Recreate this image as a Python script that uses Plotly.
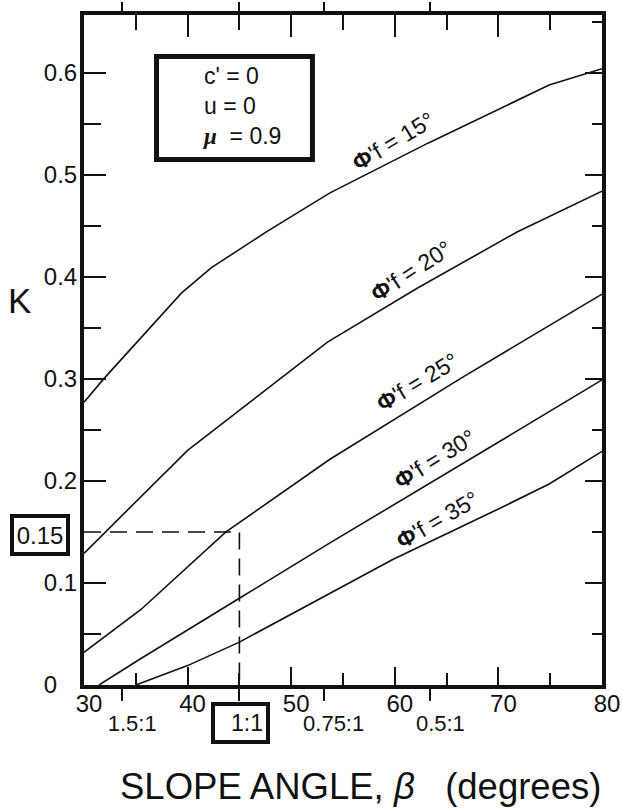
import math
import plotly.graph_objects as go

FONT = "Liberation Sans, Arial, Helvetica, sans-serif"
SERIF = "Liberation Serif, Times New Roman, serif"
INK = "#111111"

# Stability coefficient K against slope angle beta (degrees), c' = 0, u = 0, mu = 0.9
phi_labels = ["15°", "20°", "25°", "30°", "35°"]

beta_15 = [30, 31.9, 39.4, 42.3, 47.6, 53.7, 63.2, 74.9, 80]
k_15 = [0.277, 0.300, 0.384, 0.409, 0.444, 0.482, 0.531, 0.588, 0.604]

beta_20 = [30, 31.9, 40, 53.5, 62.2, 71.8, 80]
k_20 = [0.129, 0.148, 0.230, 0.336, 0.389, 0.444, 0.484]

beta_25 = [30, 35.5, 43.7, 53.7, 66.6, 80]
k_25 = [0.032, 0.074, 0.150, 0.221, 0.302, 0.383]

beta_30 = [31.45, 35.5, 45, 53.7, 68.7, 80]
k_30 = [0.0, 0.026, 0.085, 0.139, 0.230, 0.299]

beta_35 = [35, 40, 45, 53.7, 59.8, 70.1, 74.9, 80]
k_35 = [0.0, 0.019, 0.042, 0.090, 0.123, 0.173, 0.197, 0.229]

# worked example: 1:1 slope
readout_beta = 45
readout_k = 0.15

# axis ticks
beta_ticks = [30, 40, 50, 60, 70, 80]
beta_minor = [35, 45, 55, 65, 75]
k_ticks = [0, 0.1, 0.2, 0.3, 0.4, 0.5, 0.6]
k_ticktext = ["0&nbsp;&nbsp;&nbsp;", "0.1", "0.2", "0.3", "0.4", "0.5", "0.6"]
k_minor = [0.05, 0.25, 0.35, 0.45, 0.55]
k_minor_right = [0.05, 0.15, 0.25, 0.35, 0.45, 0.55, 0.65]
slope_ratios = [1.5, 1.0, 0.75, 0.5]
ratio_text = ["1.5:1", "1:1", "0.75:1", "0.5:1"]
ratio_deg = [math.degrees(math.atan(1.0 / r)) for r in slope_ratios]

X_RANGE = [30, 80]
Y_RANGE = [0, 0.6566]

fig = go.Figure()

curves = [(beta_15, k_15), (beta_20, k_20), (beta_25, k_25), (beta_30, k_30), (beta_35, k_35)]
for b, k in curves:
    fig.add_trace(go.Scatter(x=b, y=k, mode="lines", line=dict(color=INK, width=1.6),
                             hoverinfo="skip"))

# dashed read-off path
fig.add_trace(go.Scatter(x=[X_RANGE[0], readout_beta, readout_beta],
                         y=[readout_k, readout_k, 0], mode="lines",
                         line=dict(color=INK, width=1.6, dash="17px,9px"),
                         hoverinfo="skip"))

# empty traces so the extra tick axes are created
for xa, ya in [("x2", "y"), ("x3", "y"), ("x4", "y"), ("x", "y2")]:
    fig.add_trace(go.Scatter(x=[], y=[], xaxis=xa, yaxis=ya, hoverinfo="skip"))

tick_font = dict(family=FONT, size=24, color=INK)
plain = dict(showgrid=False, zeroline=False, automargin=False)

ratio_ticktext = [t if t != "1:1" else "" for t in ratio_text]

fig.update_layout(
    width=622, height=811,
    margin=dict(l=84, r=20, t=15, b=126),
    paper_bgcolor="white", plot_bgcolor="white",
    showlegend=False,
    font=dict(family=FONT, color=INK),
    xaxis=dict(range=X_RANGE, tickmode="array", tickvals=beta_ticks,
               ticks="inside", ticklen=18, tickwidth=1.5, tickcolor=INK,
               minor=dict(tickmode="array", tickvals=beta_minor, ticks="inside",
                          ticklen=12, tickwidth=1.5, tickcolor=INK),
               showline=True, linewidth=4, linecolor=INK, mirror=True,
               tickfont=tick_font, ticklabelshift=5, ticklabelstandoff=-6, **plain),
    xaxis2=dict(range=X_RANGE, overlaying="x", anchor="y", side="bottom",
                tickmode="array", tickvals=ratio_deg, ticktext=ratio_ticktext,
                ticks="outside", ticklen=15, tickwidth=1.5, tickcolor=INK,
                showline=False, tickfont=dict(family=FONT, size=22, color=INK),
                ticklabelshift=10, ticklabelstandoff=4, **plain),
    xaxis3=dict(range=X_RANGE, overlaying="x", anchor="y", side="top",
                tickmode="array", tickvals=beta_ticks[1:-1],
                ticks="inside", ticklen=22, tickwidth=1.5, tickcolor=INK,
                minor=dict(tickmode="array", tickvals=beta_minor, ticks="inside",
                           ticklen=15, tickwidth=1.5, tickcolor=INK),
                showline=False, showticklabels=False, **plain),
    xaxis4=dict(range=X_RANGE, overlaying="x", anchor="y", side="top",
                tickmode="array", tickvals=ratio_deg,
                ticks="outside", ticklen=12, tickwidth=1.5, tickcolor=INK,
                showline=False, showticklabels=False, **plain),
    yaxis=dict(range=Y_RANGE, tickmode="array", tickvals=k_ticks, ticktext=k_ticktext,
               ticks="inside", ticklen=22, tickwidth=1.5, tickcolor=INK,
               minor=dict(tickmode="array", tickvals=k_minor, ticks="inside",
                          ticklen=17, tickwidth=1.5, tickcolor=INK),
               showline=True, linewidth=4, linecolor=INK, mirror=True,
               tickfont=tick_font, ticklabelstandoff=-2, **plain),
    yaxis2=dict(range=Y_RANGE, overlaying="y", anchor="x", side="right",
                tickmode="array", tickvals=k_ticks[1:],
                ticks="inside", ticklen=17, tickwidth=1.5, tickcolor=INK,
                minor=dict(tickmode="array", tickvals=k_minor_right, ticks="inside",
                           ticklen=10, tickwidth=1.5, tickcolor=INK),
                showline=False, showticklabels=False, **plain),
)

annotations = []

# curve labels: placement (beta, K) and tilt for each friction angle
label_place = [(59.9, 0.533, -31), (61.6, 0.4055, -33), (62.2, 0.297, -31),
               (63.9, 0.221, -32), (64.1, 0.162, -30)]
for name, (bx, ky, ang) in zip(phi_labels, label_place):
    annotations.append(dict(x=bx, y=ky, xref="x", yref="y", showarrow=False,
                            xanchor="center", yanchor="middle",
                            text="<b>Φ</b>'f = " + name, textangle=ang,
                            font=dict(family=FONT, size=23, color=INK)))

# boxed read-off values
annotations.append(dict(x=readout_beta, y=-0.056, xref="x", yref="paper",
                        xanchor="center", yanchor="middle",
                        text="1:1", showarrow=False, xshift=1,
                        width=45, height=28, align="right", valign="middle",
                        bordercolor=INK, borderwidth=4, borderpad=3,
                        font=dict(family=FONT, size=23, color=INK)))
annotations.append(dict(x=-0.0849, y=readout_k, xref="paper", yref="y",
                        xanchor="center", yanchor="middle",
                        text=f"{readout_k:g}", showarrow=False, yshift=-3,
                        width=46, height=28, align="center", valign="middle",
                        bordercolor=INK, borderwidth=4, borderpad=3,
                        font=tick_font))

# parameter box text
annotations.append(dict(x=0.2259, y=0.8645, xref="paper", yref="paper",
                        xanchor="left", yanchor="middle", align="left",
                        showarrow=False,
                        text=("c' = 0<br>u = 0<br>"
                              f"<span style='font-family:{SERIF}'><b><i>μ</i></b></span>"
                              "&nbsp; = 0.9"),
                        font=dict(family=FONT, size=23, color=INK)))

# axis titles
annotations.append(dict(x=0.533, y=-0.152, xref="paper", yref="paper",
                        xanchor="center", yanchor="middle", showarrow=False,
                        text="SLOPE ANGLE, <i>β</i>&nbsp;&nbsp;&nbsp;(degrees)",
                        font=dict(family=FONT, size=36.5, color=INK)))
annotations.append(dict(x=-0.1236, y=0.5746, xref="paper", yref="paper",
                        xanchor="center", yanchor="middle", showarrow=False,
                        text="K", font=dict(family=FONT, size=35, color=INK)))

fig.update_layout(annotations=annotations)

fig.add_shape(type="rect", xref="paper", yref="paper",
              x0=0.140, x1=0.441, y0=0.7843, y1=0.938,
              line=dict(color=INK, width=5), fillcolor="rgba(0,0,0,0)")

fig.write_html("out.html")
